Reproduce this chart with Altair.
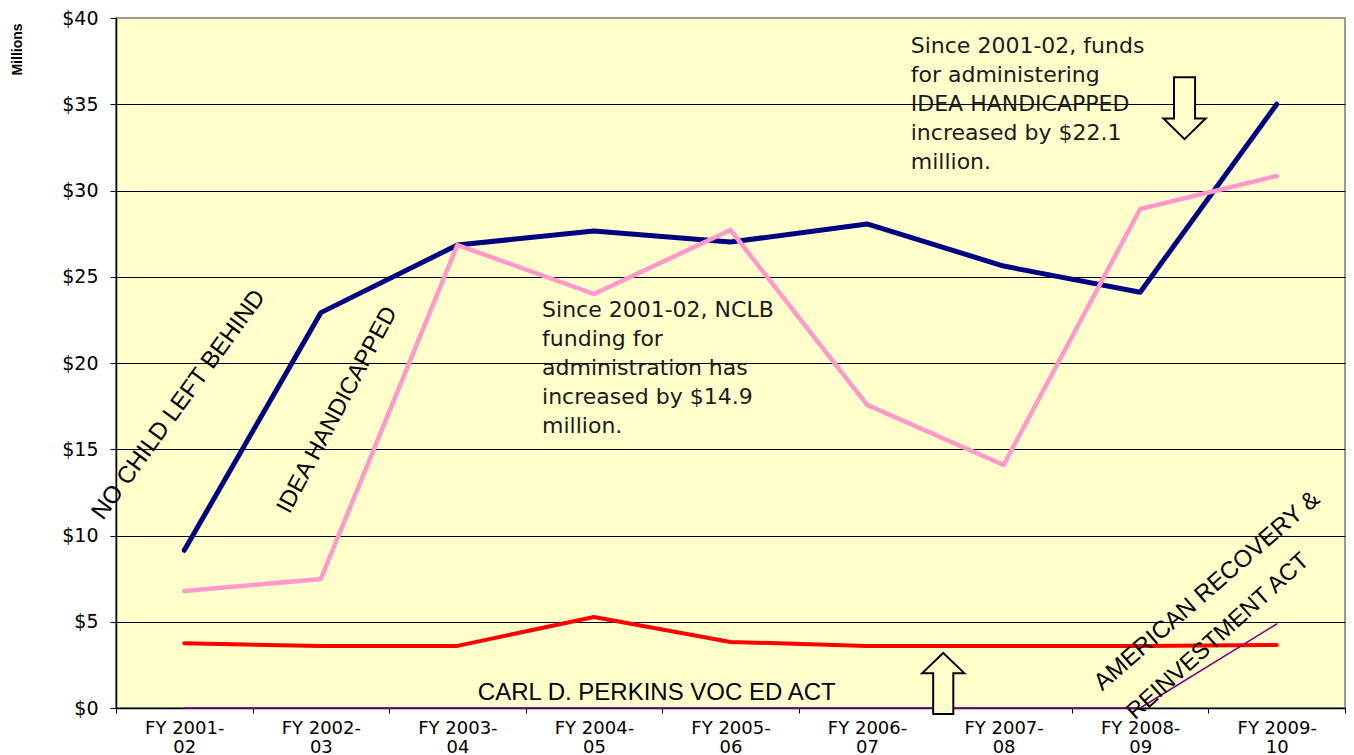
import altair as alt
import pandas as pd

# ---- data ----
fy_top = ["FY 2001-", "FY 2002-", "FY 2003-", "FY 2004-", "FY 2005-",
          "FY 2006-", "FY 2007-", "FY 2008-", "FY 2009-"]
fy_bottom = ["02", "03", "04", "05", "06", "07", "08", "09", "10"]
x_index = list(range(9))

nclb = [9.14, 22.92, 26.84, 27.65, 27.01, 28.06, 25.62, 24.10, 35.0]
idea = [6.78, 7.48, 26.84, 24.00, 27.71, 17.57, 14.09, 28.93, 30.84]
perkins = [3.75, 3.60, 3.60, 5.28, 3.83, 3.60, 3.60, 3.60, 3.65]
arra = [0, 0, 0, 0, 0, 0, 0, 0, 4.87]

series_names = ["NCLB", "IDEA", "PERKINS", "ARRA"]
series_values = [nclb, idea, perkins, arra]
series_colors = ["#000080", "#FF99CC", "#FF0000", "#800080"]
series_widths = [5, 4.5, 4, 1.5]

# annotation texts (position in data units)
note_nclb = ["Since 2001-02, NCLB", "funding for", "administration has",
             "increased by $14.9", "million."]
note_nclb_pos = (2.62, 22.68)
note_idea = ["Since 2001-02, funds", "for administering", "IDEA HANDICAPPED",
             "increased by $22.1", "million."]
note_idea_pos = (5.32, 37.99)

rot_labels = ["NO CHILD LEFT BEHIND", "IDEA HANDICAPPED",
              "AMERICAN RECOVERY &", "REINVESTMENT ACT"]
rot_x = [-0.04, 1.12, 7.49, 7.57]
rot_y = [17.57, 17.28, 6.78, 4.15]
rot_angle = [306, 298, 319, 318]
rot_size = [24, 23.5, 24, 23.5]

perkins_label = "CARL D. PERKINS VOC ED ACT"
perkins_pos = (3.46, 0.85)

arrow_down_pos = (7.325, 34.77)
arrow_up_pos = (5.558, 1.42)

# ---- scales and axes ----
xscale = alt.Scale(domain=[-0.5, 8.5], nice=False, zero=False)
yscale = alt.Scale(domain=[0, 40], nice=False, zero=False)

label_arr = "[" + ",".join(f'["{t}","{b}"]' for t, b in zip(fy_top, fy_bottom)) + "]"
x_vals = [i / 2 for i in range(-1, 18)]

xaxis = alt.Axis(
    values=x_vals, title=None, grid=False,
    domainColor="black", domainWidth=1.5,
    tickColor="black", tickSize=5, tickWidth=1,
    tickOpacity={"condition": {"test": "datum.value % 1 === 0", "value": 0}, "value": 1},
    labelExpr=f"datum.value % 1 === 0 ? {label_arr}[datum.value] : ''",
    labelFont="DejaVu Sans", labelFontSize=18, labelLineHeight=19,
    labelColor="black", labelPadding=6, labelOverlap=False,
    labelFlush=False, labelBound=False,
)

yaxis = alt.Axis(
    values=list(range(0, 45, 5)), title="Millions",
    labelExpr="'$' + datum.value",
    grid=True, gridColor="black", gridWidth=1,
    gridOpacity={"condition": {"test": "datum.value === 40", "value": 0}, "value": 1},
    domainColor="black", domainWidth=1.5,
    tickColor="black", tickSize=6, tickWidth=1,
    labelFont="DejaVu Sans", labelFontSize=19, labelPadding=12, labelColor="black",
    titleFont="Liberation Sans", titleFontSize=14, titleFontWeight="bold",
    titleAngle=270, titleX=-99, titleY=31, titleAlign="center",
    titleBaseline="middle", titleColor="black",
)


def enc(ch):
    return ch.encode(
        x=alt.X("x:Q", scale=xscale, axis=xaxis),
        y=alt.Y("y:Q", scale=yscale, axis=yaxis),
    )


layers = []
for name, vals, col, w in zip(series_names, series_values, series_colors, series_widths):
    df = pd.DataFrame({"x": x_index, "y": vals, "series": name})
    layers.append(enc(alt.Chart(df).mark_line(
        color=col, strokeWidth=w, strokeCap="round", strokeJoin="round")))

# multi-line notes
for lines, (px, py) in [(note_nclb, note_nclb_pos), (note_idea, note_idea_pos)]:
    df = pd.DataFrame({"x": [px], "y": [py], "t": ["\n".join(lines)]})
    layers.append(enc(alt.Chart(df).mark_text(
        align="left", baseline="alphabetic", lineBreak="\n", lineHeight=29,
        font="DejaVu Sans", fontSize=22, color="#1a1a1a")).encode(text="t:N"))

# rotated labels
for lab, px, py, ang, fs in zip(rot_labels, rot_x, rot_y, rot_angle, rot_size):
    df = pd.DataFrame({"x": [px], "y": [py], "t": [lab]})
    layers.append(enc(alt.Chart(df).mark_text(
        align="center", baseline="middle", angle=ang,
        font="Liberation Sans", fontSize=fs, color="black")).encode(text="t:N"))

# Perkins label
df = pd.DataFrame({"x": [perkins_pos[0]], "y": [perkins_pos[1]], "t": [perkins_label]})
layers.append(enc(alt.Chart(df).mark_text(
    align="center", baseline="middle", font="Liberation Sans",
    fontSize=24, color="black")).encode(text="t:N"))

# arrows
down_path = "M -0.34 -1 L 0.34 -1 L 0.34 0.33 L 0.68 0.33 L 0 1 L -0.68 0.33 L -0.34 0.33 Z"
up_path = "M 0 -1 L 0.69 -0.34 L 0.33 -0.34 L 0.33 1 L -0.33 1 L -0.33 -0.34 L -0.69 -0.34 Z"
for path, (px, py), sz in [(down_path, arrow_down_pos, 3844), (up_path, arrow_up_pos, 3721)]:
    df = pd.DataFrame({"x": [px], "y": [py]})
    layers.append(enc(alt.Chart(df).mark_point(
        shape=path, size=sz, filled=True, fill="#FFFFCC", stroke="black",
        strokeWidth=2, opacity=1, strokeOpacity=1, fillOpacity=1)))

chart = alt.layer(*layers).properties(
    width=1229, height=690,
    autosize=alt.AutoSizeParams(type="none"),
    padding={"left": 108, "top": 10, "right": 1, "bottom": 55},
    background="white",
).configure_view(fill="#FFFFCC", stroke="#999999", strokeWidth=2)

chart.save("out.html", embed_options={"renderer": "svg", "actions": False})
